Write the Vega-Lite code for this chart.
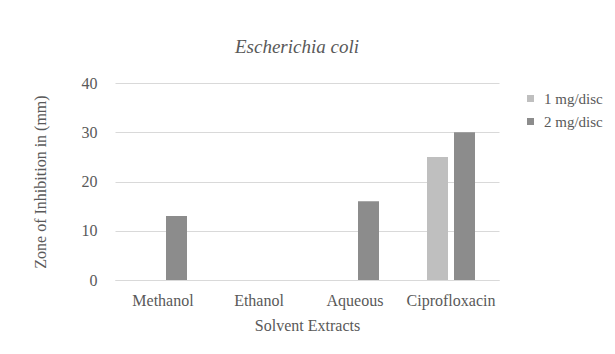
{
  "$schema": "https://vega.github.io/schema/vega-lite/v6.json",
  "width": 384,
  "height": 197,
  "autosize": {"type": "none"},
  "padding": {"left": 115, "top": 83, "right": 116, "bottom": 74},
  "background": "white",
  "title": {
    "text": "Escherichia coli",
    "font": "Liberation Serif",
    "fontStyle": "italic",
    "fontWeight": "normal",
    "fontSize": 19,
    "color": "#595959",
    "anchor": "middle",
    "baseline": "alphabetic",
    "offset": 3,
    "dx": -10
  },
  "data": {
    "values": [
      {"extract": "Methanol", "dose": "1 mg/disc", "zone": 0},
      {"extract": "Methanol", "dose": "2 mg/disc", "zone": 13},
      {"extract": "Ethanol", "dose": "1 mg/disc", "zone": 0},
      {"extract": "Ethanol", "dose": "2 mg/disc", "zone": 0},
      {"extract": "Aqueous", "dose": "1 mg/disc", "zone": 0},
      {"extract": "Aqueous", "dose": "2 mg/disc", "zone": 16},
      {"extract": "Ciprofloxacin", "dose": "1 mg/disc", "zone": 25},
      {"extract": "Ciprofloxacin", "dose": "2 mg/disc", "zone": 30}
    ]
  },
  "mark": {"type": "bar"},
  "encoding": {
    "x": {
      "field": "extract",
      "type": "nominal",
      "sort": ["Methanol", "Ethanol", "Aqueous", "Ciprofloxacin"],
      "scale": {"paddingInner": 0.5, "paddingOuter": 0.25},
      "axis": {
        "title": "Solvent Extracts",
        "labelAngle": 0,
        "ticks": false,
        "domainColor": "#d9d9d9",
        "labelPadding": 12,
        "titlePadding": 9
      }
    },
    "xOffset": {
      "field": "dose",
      "type": "nominal",
      "scale": {"paddingInner": 0.222, "paddingOuter": 0}
    },
    "y": {
      "field": "zone",
      "type": "quantitative",
      "scale": {"domain": [0, 40]},
      "axis": {
        "title": "Zone of Inhibition in (mm)",
        "values": [0, 10, 20, 30, 40],
        "domain": false,
        "ticks": false,
        "labelPadding": 18,
        "titlePadding": 33,
        "gridColor": "#d9d9d9"
      }
    },
    "color": {
      "field": "dose",
      "type": "nominal",
      "scale": {"range": ["#bfbfbf", "#8c8c8c"]},
      "legend": {
        "title": null,
        "orient": "none",
        "legendX": 408,
        "legendY": 8,
        "symbolType": "square",
        "symbolSize": 49,
        "symbolStrokeWidth": 0,
        "rowPadding": 7,
        "labelFont": "Liberation Serif",
        "labelFontSize": 15,
        "labelColor": "#595959",
        "labelOffset": 6
      }
    }
  },
  "config": {
    "view": {"stroke": null},
    "axis": {
      "labelFont": "Liberation Serif",
      "labelFontSize": 16,
      "labelColor": "#595959",
      "titleFont": "Liberation Serif",
      "titleFontSize": 16,
      "titleFontWeight": "normal",
      "titleColor": "#595959",
      "grid": true
    },
    "axisX": {"grid": false}
  }
}
